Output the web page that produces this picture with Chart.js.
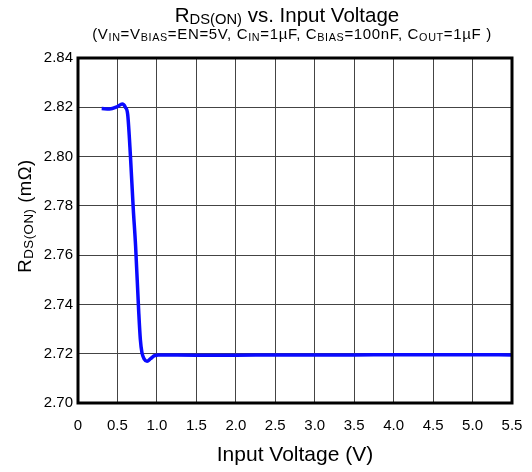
<!DOCTYPE html>
<html>
<head>
<meta charset="utf-8">
<script src="https://cdn.jsdelivr.net/npm/chart.js@4"></script>
<style>
  html, body { margin: 0; padding: 0; background: #fff; }
  #wrap { width: 532px; height: 472px; position: relative; }
</style>
</head>
<body>
<div id="wrap"><canvas id="rdsChart" width="532" height="472"></canvas></div>
<script>
// dados
const inputVoltage = [0.30, 0.40, 0.50, 0.56, 0.60, 0.63, 0.665, 0.70, 0.73, 0.77, 0.79, 0.81, 0.84, 0.875, 0.92, 0.97, 1.02, 1.5, 2.0, 2.5, 3.0, 3.5, 4.0, 4.5, 5.0, 5.5];
const rdsOn = [2.8195, 2.8193, 2.8203, 2.8213, 2.8200, 2.8170, 2.8000, 2.7790, 2.7636, 2.7367, 2.7258, 2.7205, 2.7178, 2.7169, 2.7180, 2.7192, 2.7195, 2.7194, 2.7194, 2.7195, 2.7195, 2.7195, 2.7196, 2.7196, 2.7196, 2.7195];
const xTicks = ['0', '0.5', '1.0', '1.5', '2.0', '2.5', '3.0', '3.5', '4.0', '4.5', '5.0', '5.5'];
const yTicks = ['2.70', '2.72', '2.74', '2.76', '2.78', '2.80', '2.82', '2.84'];

const FONT = "'Liberation Sans', Arial, sans-serif";

// texto com subscrito: [texto, subscrito?]
function setFont(ctx, p, size, sp) {
  ctx.font = (p[1] ? size * 0.72 : size) + 'px ' + FONT;
  ctx.letterSpacing = sp + 'px';
}
function richWidth(ctx, parts, size, sp) {
  let w = 0;
  parts.forEach(p => {
    setFont(ctx, p, size, sp);
    w += ctx.measureText(p[0]).width;
  });
  return w;
}
function drawRich(ctx, parts, x, y, size, sp) {
  let cx = x - richWidth(ctx, parts, size, sp) / 2;
  ctx.textAlign = 'left';
  ctx.textBaseline = 'alphabetic';
  parts.forEach(p => {
    setFont(ctx, p, size, sp);
    ctx.fillText(p[0], cx, p[1] ? y + size * 0.12 : y);
    cx += ctx.measureText(p[0]).width;
  });
  ctx.letterSpacing = '0px';
}

const textPlugin = {
  id: 'textPlugin',
  afterDatasetsDraw(chart) {
    const ctx = chart.ctx;
    const a = chart.chartArea;
    ctx.save();
    // moldura do gráfico
    ctx.strokeStyle = '#000';
    ctx.lineWidth = 3;
    ctx.strokeRect(a.left, a.top, a.right - a.left, a.bottom - a.top);
    ctx.fillStyle = '#000';
    drawRich(ctx, [['R'], ['DS(ON)', 1], [' vs. Input Voltage']], 287, 22, 20.5, 0);
    drawRich(ctx, [['(V'], ['IN', 1], ['=V'], ['BIAS', 1], ['=EN=5V, C'], ['IN', 1], ['=1µF, C'], ['BIAS', 1], ['=100nF, C'], ['OUT', 1], ['=1µF )']], 292, 39, 15, 0.65);
    // título do eixo Y
    ctx.translate(31, 216);
    ctx.rotate(-Math.PI / 2);
    drawRich(ctx, [['R'], ['DS(ON)', 1], [' (mΩ)']], 0, 0, 18.5, 0.5);
    ctx.restore();
  }
};

const ctx = document.getElementById('rdsChart').getContext('2d');
const chart = new Chart(ctx, {
  type: 'line',
  data: {
    datasets: [{
      data: inputVoltage.map((v, i) => ({ x: v, y: rdsOn[i] })),
      borderColor: '#0a0aff',
      borderWidth: 3.5,
      pointRadius: 0,
      cubicInterpolationMode: 'monotone',
      fill: false
    }]
  },
  options: {
    responsive: false,
    animation: false,
    layout: { autoPadding: false, padding: { left: 0, right: 20, top: 58, bottom: 0 } },
    plugins: { legend: { display: false }, tooltip: { enabled: false } },
    scales: {
      x: {
        type: 'linear',
        min: 0,
        max: 5.5,
        afterBuildTicks: s => { s.ticks = xTicks.map(t => ({ value: parseFloat(t) })); },
        afterFit: s => { s.height = 69; s.paddingRight = 0; s.paddingLeft = 0; },
        grid: { color: '#444', lineWidth: 1, drawTicks: false },
        border: { display: false },
        ticks: {
          padding: 14,
          color: '#000',
          font: { family: FONT, size: 15 },
          callback: (v, i) => xTicks[i]
        },
        title: {
          display: true,
          text: 'Input Voltage (V)',
          color: '#000',
          font: { family: FONT, size: 21 },
          padding: { top: 0, bottom: 4 }
        }
      },
      y: {
        min: 2.70,
        max: 2.84,
        afterBuildTicks: s => { s.ticks = yTicks.map(t => ({ value: parseFloat(t) })); },
        afterFit: s => { s.width = 78; s.paddingTop = 0; s.paddingBottom = 0; },
        grid: { color: '#444', lineWidth: 1, drawTicks: false },
        border: { display: false },
        ticks: {
          padding: 5,
          color: '#000',
          font: { family: FONT, size: 15 },
          callback: (v, i) => yTicks[i]
        }
      }
    }
  },
  plugins: [textPlugin]
});
</script>
</body>
</html>
